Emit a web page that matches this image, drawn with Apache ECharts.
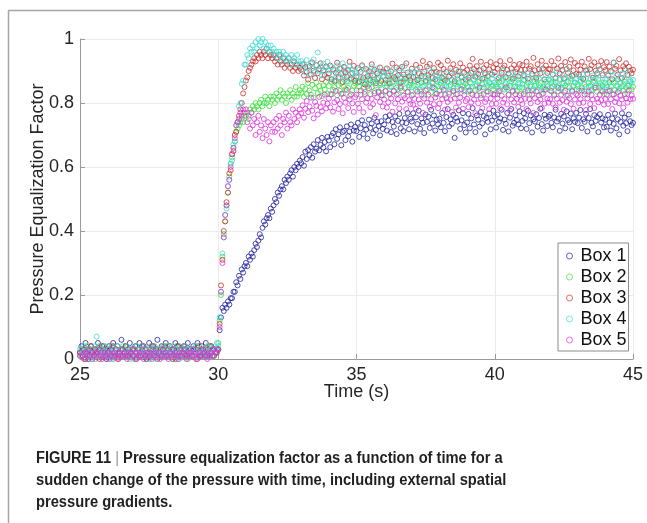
<!DOCTYPE html>
<html>
<head>
<meta charset="utf-8">
<script src="https://cdn.jsdelivr.net/npm/echarts@6/dist/echarts.min.js"></script>
<style>
html,body{margin:0;padding:0;background:#fff;}
#chart{width:647px;height:523px;}
</style>
</head>
<body>
<div id="chart"></div>
<script>
// ---- data ----
const seriesNames = ['Box 1', 'Box 2', 'Box 3', 'Box 4', 'Box 5'];
const xTicks = [25, 30, 35, 40, 45];
const yTicks = [0, 0.2, 0.4, 0.6, 0.8, 1];
const timeStart = 25;      // s
const timeStep = 0.05;     // s, sampling interval

const box1 = [
.02,.04,.01,.03,.05,.02,.00,.03,.04,.02,.01,.03,.02,.05,.03,.01,.04,.02,.03,.00,
.02,.04,.03,.01,.05,.02,.03,.04,.01,.02,.06,.03,.02,.04,.01,.03,.05,.02,.03,.01,
.04,.02,.03,.05,.01,.02,.04,.03,.00,.02,.05,.03,.01,.04,.02,.03,.06,.02,.01,.04,
.03,.02,.05,.01,.03,.04,.02,.00,.03,.05,.02,.04,.01,.03,.02,.04,.03,.01,.05,.02,
.03,.01,.04,.02,.03,.05,.02,.01,.04,.03,.02,.05,.01,.03,.02,.04,.01,.03,.02,.03,
.03,.09,.13,.16,.15,.17,.16,.18,.17,.19,.19,.21,.21,.24,.23,.26,.25,.28,.27,.29,
.30,.29,.32,.31,.33,.32,.34,.36,.35,.37,.39,.38,.41,.43,.42,.44,.45,.44,.47,.46,
.48,.50,.49,.52,.51,.53,.54,.53,.56,.55,.57,.56,.58,.59,.57,.60,.59,.61,.60,.62,
.612,.631,.604,.648,.625,.653,.637,.662,.629,.671,.648,.657,.684,.652,.669,.691,.661,.678,.649,.694,
.683,.662,.697,.706,.671,.718,.688,.702,.724,.668,.709,.713,.684,.727,.696,.711,.733,.679,.714,.725,
.712,.738,.694,.721,.746,.703,.731,.717,.689,.748,.722,.736,.705,.754,.716,.741,.728,.699,.743,.719,
.733,.757,.714,.745,.762,.709,.741,.726,.758,.703,.744,.766,.721,.739,.712,.753,.737,.769,.718,.751,
.742,.768,.711,.755,.734,.776,.719,.752,.738,.706,.764,.741,.757,.722,.779,.736,.761,.714,.748,.733,
.751,.724,.769,.738,.712,.756,.781,.727,.749,.735,.763,.691,.754,.742,.777,.719,.746,.768,.731,.708,
.739,.766,.721,.752,.784,.733,.709,.761,.748,.726,.772,.737,.759,.702,.753,.741,.767,.718,.745,.776,
.758,.723,.764,.741,.752,.779,.716,.748,.735,.769,.711,.754,.781,.729,.738,.762,.747,.733,.774,.721,
.744,.768,.752,.719,.776,.737,.761,.708,.749,.742,.765,.726,.753,.782,.734,.714,.763,.751,.728,.757,
.763,.738,.724,.755,.779,.742,.751,.713,.766,.736,.758,.721,.774,.747,.739,.767,.718,.752,.741,.769,
.737,.754,.778,.722,.749,.741,.766,.711,.753,.781,.738,.727,.762,.744,.756,.709,.765,.739,.752,.724,
.748,.726,.763,.739,.714,.752,.735,.767,.721,.749,.702,.741,.768,.729,.754,.737,.712,.764,.743,.731,
.738
];

const box2 = [
.01,.03,.02,.00,.02,.04,.01,.02,.03,.01,.02,.00,.03,.02,.04,.01,.02,.03,.01,.02,
.03,.01,.02,.04,.00,.02,.03,.01,.02,.03,.01,.04,.02,.01,.03,.02,.00,.02,.03,.01,
.02,.04,.01,.03,.02,.01,.02,.03,.01,.02,.00,.03,.02,.01,.04,.02,.03,.01,.02,.02,
.01,.03,.02,.04,.01,.02,.03,.00,.02,.01,.03,.02,.04,.01,.02,.03,.01,.02,.00,.03,
.02,.01,.03,.02,.04,.01,.02,.03,.01,.02,.03,.01,.02,.04,.01,.02,.03,.01,.02,.03,
.05,.12,.20,.32,.39,.43,.48,.52,.57,.61,.63,.66,.68,.71,.72,.73,.74,.75,.74,.76,
.76,.77,.75,.78,.77,.79,.78,.80,.79,.78,.80,.81,.79,.80,.82,.80,.81,.79,.82,.81,
.82,.80,.83,.81,.82,.84,.81,.83,.82,.80,.83,.82,.84,.81,.83,.82,.85,.82,.83,.84,
.832,.851,.819,.844,.828,.862,.839,.826,.857,.817,.846,.864,.831,.853,.838,.821,.855,.842,.866,.829,
.853,.827,.866,.841,.849,.871,.824,.856,.838,.862,.829,.851,.843,.868,.847,.822,.873,.839,.854,.861,
.839,.864,.851,.826,.872,.847,.835,.861,.853,.876,.828,.849,.866,.837,.855,.874,.833,.862,.845,.824,
.862,.838,.853,.874,.827,.851,.866,.836,.879,.848,.829,.864,.852,.839,.868,.846,.877,.834,.855,.863,
.849,.826,.868,.841,.857,.875,.836,.864,.851,.823,.866,.843,.878,.854,.832,.861,.847,.828,.869,.852,
.838,.863,.849,.876,.825,.852,.867,.834,.856,.873,.839,.862,.827,.851,.864,.842,.879,.853,.836,.861,
.853,.837,.864,.829,.851,.874,.841,.855,.866,.838,.824,.862,.849,.877,.836,.854,.865,.831,.852,.843,
.864,.851,.827,.866,.839,.853,.876,.842,.861,.848,.826,.854,.867,.835,.878,.852,.838,.863,.849,.829,
.848,.872,.836,.855,.864,.826,.851,.839,.867,.853,.874,.837,.856,.862,.828,.849,.841,.866,.852,.873,
.839,.864,.852,.827,.866,.851,.836,.875,.848,.861,.834,.855,.823,.867,.849,.876,.838,.853,.864,.842,
.852,.838,.867,.849,.874,.836,.851,.826,.863,.854,.839,.866,.848,.877,.835,.853,.862,.837,.855,.828,
.863,.849,.836,.865,.852,.827,.864,.841,.853,.874,.838,.862,.851,.839,.867,.848,.829,.855,.866,.842,
.851
];

const box3 = [
.02,.01,.03,.02,.00,.03,.02,.01,.04,.02,.01,.03,.02,.02,.00,.03,.01,.04,.02,.01,
.03,.02,.01,.02,.04,.01,.03,.02,.00,.02,.03,.01,.02,.04,.02,.01,.03,.02,.01,.03,
.02,.00,.03,.01,.02,.04,.02,.01,.03,.02,.01,.02,.04,.02,.01,.03,.00,.02,.03,.01,
.02,.04,.01,.03,.02,.01,.02,.03,.02,.00,.04,.01,.02,.03,.01,.02,.04,.02,.01,.03,
.02,.01,.03,.02,.00,.02,.04,.01,.03,.02,.01,.03,.02,.01,.04,.02,.03,.01,.02,.02,
.03,.11,.23,.31,.40,.43,.49,.52,.58,.59,.64,.65,.70,.71,.74,.76,.78,.80,.83,.85,
.87,.88,.90,.91,.92,.93,.94,.93,.95,.94,.96,.95,.94,.96,.95,.97,.94,.96,.95,.94,
.95,.93,.94,.92,.95,.93,.92,.94,.91,.93,.92,.94,.91,.92,.90,.93,.91,.92,.90,.91,
.904,.921,.886,.912,.897,.873,.915,.889,.927,.901,.878,.918,.893,.906,.924,.874,.902,.887,.914,.879,
.892,.917,.874,.905,.868,.894,.926,.879,.908,.891,.866,.913,.896,.881,.903,.929,.877,.894,.916,.869,
.883,.909,.867,.897,.918,.879,.858,.906,.884,.899,.871,.921,.886,.904,.862,.893,.878,.911,.869,.897,
.896,.872,.908,.884,.861,.899,.923,.881,.874,.911,.887,.902,.864,.913,.889,.876,.924,.895,.883,.871,
.907,.881,.896,.919,.872,.893,.911,.884,.931,.898,.869,.914,.887,.922,.895,.878,.909,.874,.897,.926,
.894,.918,.879,.906,.871,.897,.932,.883,.909,.892,.921,.868,.904,.886,.898,.924,.881,.911,.895,.873,
.903,.879,.917,.894,.938,.906,.882,.915,.891,.902,.929,.876,.908,.893,.919,.884,.905,.928,.889,.911,
.896,.921,.907,.878,.931,.894,.909,.917,.881,.904,.892,.934,.908,.876,.919,.897,.906,.883,.922,.903,
.918,.887,.904,.929,.876,.907,.915,.891,.941,.902,.879,.921,.905,.893,.932,.908,.874,.917,.894,.906,
.905,.931,.889,.917,.878,.908,.939,.892,.916,.903,.877,.928,.906,.894,.913,.936,.885,.902,.925,.891,
.917,.889,.904,.929,.876,.914,.902,.891,.938,.906,.918,.879,.927,.901,.893,.916,.905,.931,.887,.912,
.903,.928,.886,.914,.899,.874,.926,.907,.916,.889,.937,.902,.878,.915,.906,.924,.888,.913,.901,.893,
.904
];

const box4 = [
.03,.01,.02,.04,.02,.01,.03,.02,.00,.03,.02,.04,.07,.01,.02,.03,.01,.02,.04,.02,
.01,.03,.02,.00,.02,.03,.01,.04,.02,.01,.03,.02,.02,.01,.04,.02,.03,.01,.02,.00,
.03,.02,.01,.03,.04,.02,.01,.02,.03,.01,.02,.04,.01,.02,.03,.00,.02,.03,.01,.02,
.04,.02,.01,.03,.02,.01,.02,.04,.02,.03,.01,.02,.00,.03,.02,.01,.04,.02,.03,.01,
.02,.03,.01,.02,.04,.01,.02,.03,.02,.01,.03,.02,.04,.01,.02,.03,.01,.02,.03,.05,
.04,.13,.21,.33,.38,.45,.47,.54,.56,.61,.62,.67,.68,.73,.74,.79,.80,.86,.87,.92,
.92,.95,.94,.97,.96,.98,.96,.99,.97,1.0,.98,.99,1.0,.97,.99,.97,.98,.96,.98,.96,
.97,.95,.96,.94,.96,.95,.93,.96,.94,.95,.93,.94,.92,.95,.93,.94,.92,.95,.93,.92,
.931,.907,.922,.896,.934,.912,.888,.925,.909,.936,.897,.919,.958,.901,.914,.886,.923,.898,.911,.929,
.902,.876,.913,.889,.904,.868,.917,.893,.879,.907,.924,.886,.874,.903,.866,.914,.891,.906,.878,.897,
.893,.867,.904,.878,.915,.864,.891,.876,.903,.857,.889,.912,.874,.866,.897,.908,.879,.855,.894,.882,
.884,.906,.862,.893,.851,.879,.904,.866,.892,.877,.854,.909,.882,.868,.895,.916,.863,.881,.849,.897,
.869,.894,.853,.882,.906,.864,.842,.877,.893,.856,.881,.868,.907,.851,.879,.866,.898,.845,.884,.872,
.882,.857,.868,.896,.843,.877,.864,.852,.899,.871,.846,.886,.858,.873,.901,.855,.883,.869,.841,.887,
.874,.849,.887,.861,.898,.872,.853,.884,.844,.869,.903,.858,.876,.889,.847,.871,.862,.894,.876,.855,
.886,.859,.873,.845,.884,.869,.901,.856,.878,.842,.889,.863,.874,.897,.851,.883,.848,.872,.861,.891,
.858,.884,.871,.846,.897,.873,.857,.886,.843,.869,.855,.888,.876,.852,.904,.845,.872,.887,.859,.874,
.871,.847,.889,.858,.876,.899,.854,.873,.843,.885,.861,.877,.906,.852,.884,.868,.841,.887,.863,.875,
.859,.883,.872,.846,.889,.857,.876,.902,.851,.874,.842,.886,.869,.855,.891,.873,.905,.856,.878,.848,
.874,.856,.889,.843,.871,.898,.927,.866,.884,.852,.845,.877,.892,.858,.873,.903,.854,.886,.871,.862,
.872
];

const box5 = [
.01,.02,.01,.00,.02,.01,.03,.01,.02,.00,.01,.02,.01,.03,.01,.02,.00,.01,.02,.01,
.02,.00,.01,.03,.01,.02,.01,.00,.02,.01,.03,.01,.02,.01,.00,.02,.01,.02,.03,.01,
.00,.02,.01,.02,.01,.03,.00,.01,.02,.01,.02,.01,.00,.03,.01,.02,.01,.02,.00,.01,
.03,.01,.02,.01,.00,.02,.01,.03,.01,.02,.01,.00,.02,.01,.02,.03,.01,.00,.02,.01,
.02,.01,.03,.01,.02,.00,.01,.02,.01,.03,.02,.01,.00,.02,.01,.02,.01,.03,.02,.02,
.03,.10,.21,.30,.38,.45,.48,.54,.56,.60,.64,.66,.69,.73,.74,.75,.77,.76,.78,.77,
.78,.74,.76,.72,.77,.73,.75,.70,.74,.76,.71,.73,.69,.75,.72,.70,.74,.68,.73,.71,
.74,.71,.75,.72,.76,.73,.70,.75,.74,.77,.72,.76,.74,.73,.78,.75,.77,.74,.76,.78,
.768,.793,.754,.782,.806,.771,.789,.817,.776,.752,.803,.791,.764,.819,.787,.774,.801,.826,.783,.798,
.814,.786,.827,.773,.802,.838,.809,.781,.797,.829,.768,.816,.801,.841,.784,.811,.827,.799,.772,.818,
.826,.798,.784,.839,.812,.771,.828,.801,.815,.846,.787,.813,.796,.831,.762,.817,.836,.803,.824,.789,
.811,.837,.786,.802,.829,.814,.773,.838,.799,.826,.812,.783,.847,.804,.823,.815,.781,.835,.809,.797,
.824,.795,.813,.782,.836,.811,.798,.827,.769,.814,.839,.801,.826,.788,.812,.849,.796,.817,.829,.784,
.798,.826,.812,.841,.779,.815,.803,.829,.811,.772,.837,.814,.786,.828,.801,.817,.843,.782,.825,.806,
.813,.787,.839,.802,.826,.811,.768,.824,.799,.848,.815,.784,.828,.803,.812,.836,.781,.814,.797,.827,
.826,.798,.814,.837,.783,.823,.801,.812,.849,.796,.825,.776,.811,.838,.802,.827,.813,.788,.824,.809,
.797,.828,.813,.781,.839,.812,.799,.826,.769,.815,.836,.803,.824,.811,.784,.829,.798,.842,.814,.801,
.812,.837,.798,.824,.786,.813,.847,.801,.826,.809,.779,.838,.804,.823,.815,.797,.836,.782,.811,.828,
.824,.799,.812,.839,.801,.827,.778,.814,.836,.797,.825,.811,.784,.848,.813,.802,.826,.809,.837,.795,
.813,.826,.797,.838,.812,.781,.827,.803,.815,.834,.799,.823,.811,.786,.828,.814,.801,.839,.812,.824,
.813
];

const captionLines = [
  'FIGURE 11 | Pressure equalization factor as a function of time for a',
  'sudden change of the pressure with time, including external spatial',
  'pressure gradients.'
];

// ---- styles ----
const colors = ['#2222a0', '#3fe03f', '#cc3030', '#3cdcd6', '#dd33dd'];
const FONT = '"Liberation Sans", Arial, Helvetica, sans-serif';

const allBoxes = [box1, box2, box3, box4, box5];
const times = box1.map((_, i) => +(timeStart + i * timeStep).toFixed(2));

const chart = echarts.init(document.getElementById('chart'), null, {renderer: 'canvas'});

// measure caption width to emulate the condensed bold caption face
const cv = document.createElement('canvas').getContext('2d');
cv.font = 'bold 16px ' + FONT;
const capScale = 467 / cv.measureText(captionLines[0]).width;

const capRich = {
  b: {fontFamily: FONT, fontWeight: 'bold', fontSize: 16, fill: '#231f20', color: '#231f20'},
  s: {fontFamily: FONT, fontWeight: 'normal', fontSize: 16, fill: '#9a9a9a', color: '#9a9a9a'}
};

function capText(str, yMid) {
  let txt;
  if (str.indexOf('|') >= 0) {
    const parts = str.split('|');
    txt = '{b|' + parts[0] + '}{s||}{b|' + parts[1] + '}';
  } else {
    txt = '{b|' + str + '}';
  }
  return {
    type: 'text', x: 36, y: yMid, scaleX: capScale, silent: true,
    style: {text: txt, rich: capRich, font: 'bold 16px ' + FONT, fill: '#231f20', verticalAlign: 'middle', align: 'left'}
  };
}

const option = {
  animation: false,
  backgroundColor: '#ffffff',
  grid: {left: 80, right: 14, top: 39, bottom: 164, containLabel: false},
  xAxis: {
    type: 'value',
    min: xTicks[0], max: xTicks[xTicks.length - 1], interval: xTicks[1] - xTicks[0],
    name: 'Time (s)', nameLocation: 'middle', nameGap: 24, nameMoveOverlap: false,
    nameTextStyle: {fontFamily: FONT, fontSize: 18, color: '#262626'},
    axisLine: {show: true, onZero: false, lineStyle: {color: '#9a9a9a', width: 1}},
    axisTick: {show: true, inside: true, length: 5, lineStyle: {color: '#9a9a9a'}},
    axisLabel: {fontFamily: FONT, fontSize: 18, color: '#262626', margin: 7},
    splitLine: {show: true, lineStyle: {color: '#ebebeb', width: 1}}
  },
  yAxis: {
    type: 'value',
    min: yTicks[0], max: yTicks[yTicks.length - 1], interval: yTicks[1] - yTicks[0],
    name: 'Pressure Equalization Factor', nameLocation: 'middle', nameGap: 33, nameRotate: 90,
    nameMoveOverlap: false,
    nameTextStyle: {fontFamily: FONT, fontSize: 18, color: '#262626'},
    axisLine: {show: true, onZero: false, lineStyle: {color: '#9a9a9a', width: 1}},
    axisTick: {show: true, inside: true, length: 5, lineStyle: {color: '#9a9a9a'}},
    axisLabel: {fontFamily: FONT, fontSize: 18, color: '#262626', margin: 6},
    splitLine: {show: true, lineStyle: {color: '#ebebeb', width: 1}}
  },
  legend: {
    orient: 'vertical', left: 558, top: 243,
    padding: [4, 2, 2, 8],
    itemGap: 3, itemWidth: 6, itemHeight: 6,
    backgroundColor: '#ffffff', borderColor: '#8c8c8c', borderWidth: 1, borderRadius: 0,
    textStyle: {fontFamily: FONT, fontSize: 18, color: '#111', lineHeight: 18, padding: [0, 0, 0, 3]},
    data: seriesNames.map((n, i) => ({
      name: n, icon: 'circle',
      itemStyle: {color: 'rgba(255,255,255,0)', borderColor: colors[i], borderWidth: 1, opacity: 0.7}
    }))
  },
  series: seriesNames.map((n, k) => ({
    name: n,
    type: 'scatter',
    symbol: 'circle',
    symbolSize: 5,
    clip: false,
    itemStyle: {color: 'rgba(255,255,255,0)', borderColor: colors[k], borderWidth: 1},
    emphasis: {disabled: true},
    data: allBoxes[k].map((v, i) => [times[i], v])
  })),
  graphic: [
    {type: 'line', silent: true, shape: {x1: 8, y1: 10.5, x2: 647, y2: 10.5}, style: {stroke: '#a6a6a6', lineWidth: 1.5}},
    {type: 'line', silent: true, shape: {x1: 8.5, y1: 10, x2: 8.5, y2: 523}, style: {stroke: '#a6a6a6', lineWidth: 1.5}},
    capText(captionLines[0], 459),
    capText(captionLines[1], 481),
    capText(captionLines[2], 502.5)
  ]
};

chart.setOption(option);

const lens = allBoxes.map(a => a.length);
if (lens.some(l => l !== 401)) {
  setTimeout(() => { throw new Error('length mismatch: ' + lens.join(',')); }, 0);
}
</script>
</body>
</html>
